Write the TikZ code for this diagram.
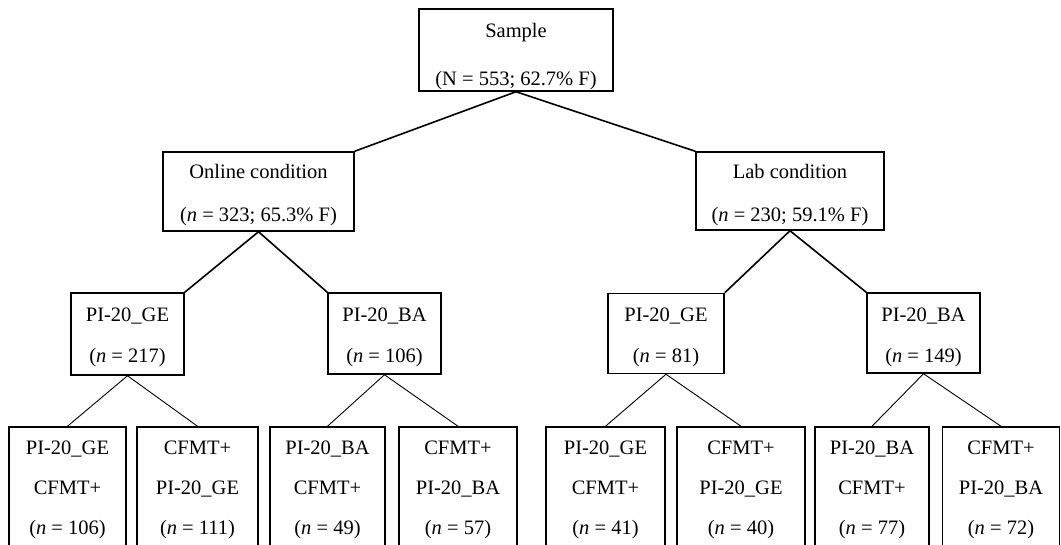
\documentclass[tikz,border=0pt]{standalone}
\usepackage{fontspec}
\setmainfont{Liberation Serif}
\begin{document}
\begin{tikzpicture}[x=1pt,y=-1pt,
  box/.style={draw,line width=1.5pt,rectangle,inner sep=0pt},
  txt/.style={align=center,inner sep=0pt,font=\fontsize{20.5}{#1}\selectfont},
  txt/.default=40,
  thicklink/.style={line width=1.6pt},
  thinlink/.style={line width=0.9pt}]
\clip (0,0) rectangle (1061,545);
\fill[white] (0,0) rectangle (1061,545);
% level 0
\node[box,minimum width=194pt,minimum height=82pt] (s) at (516,50) {};
\node[txt=48] (st) at (516,57) {Sample\\(N = 553; 62.7\% F)};
% level 1
\node[box,minimum width=191pt,minimum height=79pt] (on) at (258.5,191.5) {};
\node[txt=43] (ont) at (258.5,195.5) {Online condition\\(\textit{n} = 323; 65.3\% F)};
\node[box,minimum width=188pt,minimum height=78pt] (lab) at (790,191) {};
\node[txt=43] (labt) at (790,195.5) {Lab condition\\(\textit{n} = 230; 59.1\% F)};
% level 2
\node[box,minimum width=113pt,minimum height=82pt] (ge1) at (127.5,334) {};
\node[txt=41] (ge1t) at (127.5,337.5) {PI-20\_GE\\(\textit{n} = 217)};
\node[box,minimum width=113pt,minimum height=81pt] (ba1) at (384.5,333.5) {};
\node[txt=41] (ba1t) at (384.5,337.5) {PI-20\_BA\\(\textit{n} = 106)};
\node[box,minimum width=116pt,minimum height=80pt] (ge2) at (666,333.5) {};
\node[txt=41] (ge2t) at (666,337.5) {PI-20\_GE\\(\textit{n} = 81)};
\node[box,minimum width=113pt,minimum height=80pt] (ba2) at (923.5,333) {};
\node[txt=41] (ba2t) at (923.5,337.5) {PI-20\_BA\\(\textit{n} = 149)};
% level 3
\node[box,minimum width=117pt,minimum height=122pt] (b1) at (67.5,488) {};
\node[txt] (b1t) at (67.5,490) {PI-20\_GE\\CFMT+\\(\textit{n} = 106)};
\node[box,minimum width=121pt,minimum height=122pt] (b2) at (197.5,488) {};
\node[txt] (b2t) at (197.5,490) {CFMT+\\PI-20\_GE\\(\textit{n} = 111)};
\node[box,minimum width=115pt,minimum height=122pt] (b3) at (327.5,488) {};
\node[txt] (b3t) at (327.5,490) {PI-20\_BA\\CFMT+\\(\textit{n} = 49)};
\node[box,minimum width=118pt,minimum height=122pt] (b4) at (458,488) {};
\node[txt] (b4t) at (458,490) {CFMT+\\PI-20\_BA\\(\textit{n} = 57)};
\node[box,minimum width=119pt,minimum height=122pt] (b5) at (605.5,488) {};
\node[txt] (b5t) at (605.5,490) {PI-20\_GE\\CFMT+\\(\textit{n} = 41)};
\node[box,minimum width=128pt,minimum height=122pt] (b6) at (741,488) {};
\node[txt] (b6t) at (741,490) {CFMT+\\PI-20\_GE\\(\textit{n} = 40)};
\node[box,minimum width=114pt,minimum height=122pt] (b7) at (872,488) {};
\node[txt] (b7t) at (872,490) {PI-20\_BA\\CFMT+\\(\textit{n} = 77)};
\node[box,minimum width=117pt,minimum height=122pt] (b8) at (1001,488) {};
\node[txt] (b8t) at (1001,490) {CFMT+\\PI-20\_BA\\(\textit{n} = 72)};
% connectors
\draw[thicklink] (on.north east) -- (s.south) -- (lab.north west);
\draw[thicklink] (ge1.north east) -- (on.south) -- (ba1.north west);
\draw[thicklink] (ge2.north east) -- (lab.south) -- (ba2.north west);
\draw[thinlink] (b1.north) -- (ge1.south) -- (b2.north);
\draw[thinlink] (b3.north) -- (ba1.south) -- (b4.north);
\draw[thinlink] (b5.north) -- (ge2.south) -- (b6.north);
\draw[thinlink] (b7.north) -- (ba2.south) -- (b8.north);
\end{tikzpicture}
\end{document}
